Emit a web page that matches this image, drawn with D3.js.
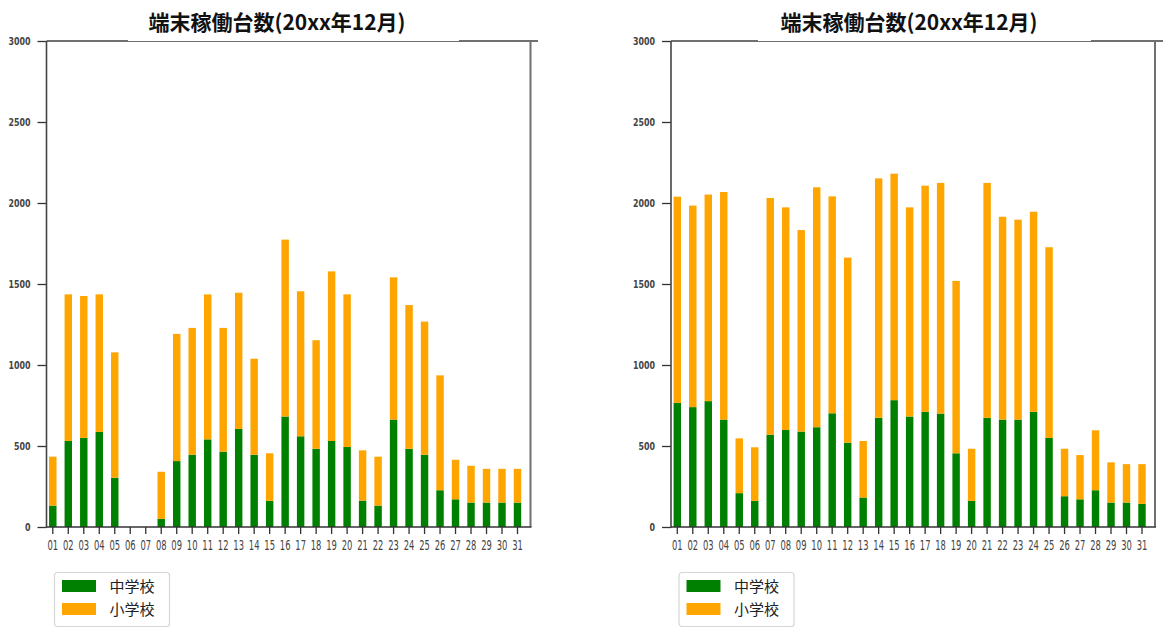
<!DOCTYPE html>
<html>
<head>
<meta charset="utf-8">
<script src="https://cdn.jsdelivr.net/npm/d3@7"></script>
<style>
  html, body { margin: 0; padding: 0; background: #fff; }
  svg { display: block; }
</style>
</head>
<body>
<svg id="chart" width="1163" height="635"></svg>
<script>
// ---------------- data ----------------
const days = ["01","02","03","04","05","06","07","08","09","10","11","12","13","14","15","16",
              "17","18","19","20","21","22","23","24","25","26","27","28","29","30","31"];
const titleText = "端末稼働台数(20xx年12月)";
const seriesNames = ["中学校", "小学校"];
const seriesColors = ["#008000", "#FFA500"];
const yTicks = [0, 500, 1000, 1500, 2000, 2500, 3000];

// left chart
const leftJunior = [132,531,550,587,304,0,0,50,407,446,541,465,605,446,161,682,
                    560,483,531,494,163,132,663,483,446,227,171,151,151,151,151];
const leftElementary = [302,905,876,849,774,0,0,291,785,783,895,764,841,593,294,1092,
                        895,670,1047,942,310,302,878,887,822,709,244,227,208,208,208];
// right chart
const rightJunior = [766,740,777,663,209,161,570,599,589,616,702,521,182,674,783,682,
                     711,700,455,161,674,663,663,711,550,190,171,227,151,151,143];
const rightElementary = [1273,1244,1275,1405,338,331,1461,1374,1244,1481,1339,1142,349,1478,1398,1291,
                         1396,1424,1064,322,1450,1252,1234,1235,1177,293,273,370,248,237,245];

// ---------------- drawing ----------------
const svg = d3.select("#chart");

function drawChart(offsetX, titleX, boxX0, boxX1, lineEnd, junior, elementary) {
  const g = svg.append("g").attr("transform", `translate(${offsetX},0)`);
  const axL = 46.5, axR = 530.5, yTop = 41, yBot = 527;

  const x = d3.scaleBand().domain(days).range([45.05, 525.24])
    .paddingInner(0.52).paddingOuter(0.26);
  const y = d3.scaleLinear().domain([0, 3000]).range([yBot, yTop]);

  const rows = days.map((d, i) => ({ day: d, [seriesNames[0]]: junior[i], [seriesNames[1]]: elementary[i] }));
  const stacked = d3.stack().keys(seriesNames)(rows);

  g.selectAll("g.series").data(stacked).join("g")
    .attr("class", "series")
    .attr("fill", (s, i) => seriesColors[i])
    .selectAll("rect").data(s => s).join("rect")
      .attr("x", d => x(d.data.day))
      .attr("width", x.bandwidth())
      .attr("y", d => y(d[1]))
      .attr("height", d => Math.max(0, y(d[0]) - y(d[1])));

  // y axis
  const ya = g.append("g").attr("transform", `translate(${axL},0)`)
    .call(d3.axisLeft(y).tickValues(yTicks).tickFormat(d3.format("d"))
      .tickSize(9).tickPadding(8).tickSizeOuter(0));
  ya.select(".domain").remove();
  ya.selectAll(".tick line").attr("stroke", "#333").attr("stroke-width", 1.3);
  ya.selectAll(".tick text")
    .attr("x", 0)
    .attr("transform", "translate(-16,0) scale(0.72,1)")
    .attr("fill", "#444")
    .style("font-family", "DejaVu Sans")
    .style("font-size", "11px")
    .style("font-weight", "bold");

  // x axis
  const xa = g.append("g").attr("transform", `translate(0,${yBot})`)
    .call(d3.axisBottom(x).tickSize(7).tickPadding(6).tickSizeOuter(0));
  xa.select(".domain").remove();
  xa.selectAll(".tick line").attr("stroke", "#333").attr("stroke-width", 1.3);
  xa.selectAll(".tick text")
    .attr("transform", "scale(0.6,1)")
    .attr("fill", "#444")
    .style("font-family", "DejaVu Sans")
    .style("font-size", "14px");

  // frame
  g.append("line").attr("x1", axL).attr("x2", lineEnd).attr("y1", yTop).attr("y2", yTop)
    .attr("stroke", "#707070").attr("stroke-width", 2);
  g.append("line").attr("x1", axR).attr("x2", axR).attr("y1", yTop).attr("y2", yBot)
    .attr("stroke", "#707070").attr("stroke-width", 2);
  g.append("line").attr("x1", axL).attr("x2", axL).attr("y1", yTop).attr("y2", yBot + 0.7)
    .attr("stroke", "#444").attr("stroke-width", 1.6);
  g.append("line").attr("x1", axL).attr("x2", axR + 1).attr("y1", yBot).attr("y2", yBot)
    .attr("stroke", "#333").attr("stroke-width", 1.6);

  // title with white box
  svg.append("rect").attr("x", boxX0).attr("y", 6).attr("width", boxX1 - boxX0).attr("height", 35)
    .attr("fill", "#fff");
  svg.append("text").attr("x", titleX).attr("y", 30)
    .attr("text-anchor", "middle")
    .attr("fill", "#111")
    .style("font-family", "'Noto Sans CJK JP', sans-serif")
    .style("font-size", "21px")
    .style("font-weight", "bold")
    .text(titleText);

  // legend
  const lg = g.append("g").attr("transform", "translate(54.5,572.5)");
  lg.append("rect").attr("width", 115).attr("height", 54).attr("rx", 3)
    .attr("fill", "#fff").attr("stroke", "#d6d6d6").attr("stroke-width", 1.2);
  seriesNames.forEach((name, i) => {
    lg.append("rect").attr("x", 7.5).attr("y", 7.5 + i * 23).attr("width", 34).attr("height", 12)
      .attr("fill", seriesColors[i]);
    lg.append("text").attr("x", 55).attr("y", 19 + i * 23)
      .attr("fill", "#222")
      .style("font-family", "'Noto Sans CJK JP', sans-serif")
      .style("font-size", "15px")
      .text(name);
  });
}

drawChart(0, 277, 128, 459, 538, leftJunior, leftElementary);
drawChart(624.5, 909, 758, 1091, 1161, rightJunior, rightElementary);
</script>
</body>
</html>
